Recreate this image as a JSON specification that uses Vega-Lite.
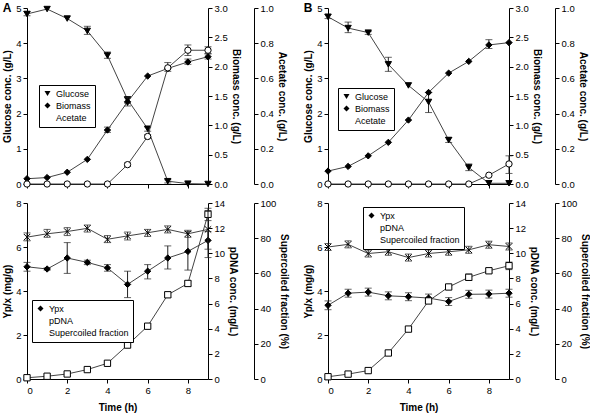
{
  "$schema": "https://vega.github.io/schema/vega-lite/v6.json",
  "padding": {"left": 2, "top": 2, "right": 0, "bottom": 2},
  "config": {
    "font": "Liberation Sans",
    "view": {"stroke": null},
    "axis": {"grid": false, "labelFontSize": 9.5, "titleFontSize": 10, "titleFontWeight": "bold", "domainColor": "#000", "tickColor": "#000", "labelColor": "#000", "titleColor": "#000", "tickSize": 4, "labelPadding": 2, "titlePadding": 3},
    "legend": {"strokeColor": "#000", "padding": 4, "labelFontSize": 9, "symbolSize": 36, "symbolStrokeColor": "#000", "symbolStrokeWidth": 1, "rowPadding": 1, "fillColor": "white"},
    "title": {"fontSize": 12, "fontWeight": "bold", "anchor": "start", "frame": "bounds"}
  },
  "data": {"values": [
    {"p":"A1","s":"Glucose","t":0,"v":4.83,"lo":4.78,"hi":4.9},
    {"p":"A1","s":"Glucose","t":1,"v":4.97},
    {"p":"A1","s":"Glucose","t":2,"v":4.7},
    {"p":"A1","s":"Glucose","t":3,"v":4.35,"lo":4.25,"hi":4.48},
    {"p":"A1","s":"Glucose","t":4,"v":3.65,"lo":3.57,"hi":3.75},
    {"p":"A1","s":"Glucose","t":5,"v":2.4,"lo":2.3,"hi":2.48},
    {"p":"A1","s":"Glucose","t":6,"v":1.57,"lo":1.5,"hi":1.62},
    {"p":"A1","s":"Glucose","t":7,"v":0.08,"lo":0.03,"hi":0.12},
    {"p":"A1","s":"Glucose","t":8,"v":0.01},
    {"p":"A1","s":"Glucose","t":9,"v":0.0},
    {"p":"A1","s":"Biomass","t":0,"v":0.09},
    {"p":"A1","s":"Biomass","t":1,"v":0.11},
    {"p":"A1","s":"Biomass","t":2,"v":0.2},
    {"p":"A1","s":"Biomass","t":3,"v":0.42},
    {"p":"A1","s":"Biomass","t":4,"v":0.92,"lo":0.88,"hi":0.97},
    {"p":"A1","s":"Biomass","t":5,"v":1.4,"lo":1.33,"hi":1.47},
    {"p":"A1","s":"Biomass","t":6,"v":1.84},
    {"p":"A1","s":"Biomass","t":7,"v":1.97,"lo":1.92,"hi":2.07},
    {"p":"A1","s":"Biomass","t":8,"v":2.08,"lo":2.04,"hi":2.13},
    {"p":"A1","s":"Biomass","t":9,"v":2.17,"lo":2.13,"hi":2.22},
    {"p":"A1","s":"Acetate","t":0,"v":0},
    {"p":"A1","s":"Acetate","t":1,"v":0},
    {"p":"A1","s":"Acetate","t":2,"v":0},
    {"p":"A1","s":"Acetate","t":3,"v":0},
    {"p":"A1","s":"Acetate","t":4,"v":0},
    {"p":"A1","s":"Acetate","t":5,"v":0.11,"lo":0.1,"hi":0.12},
    {"p":"A1","s":"Acetate","t":6,"v":0.27,"lo":0.26,"hi":0.28},
    {"p":"A1","s":"Acetate","t":7,"v":0.66},
    {"p":"A1","s":"Acetate","t":8,"v":0.76,"lo":0.73,"hi":0.79},
    {"p":"A1","s":"Acetate","t":9,"v":0.76,"lo":0.74,"hi":0.78},
    {"p":"A2","s":"Ypx","t":0,"v":5.1,"lo":4.9,"hi":5.3},
    {"p":"A2","s":"Ypx","t":1,"v":5.0,"lo":4.95,"hi":5.05},
    {"p":"A2","s":"Ypx","t":2,"v":5.5,"lo":4.8,"hi":6.2},
    {"p":"A2","s":"Ypx","t":3,"v":5.3,"lo":5.2,"hi":5.4},
    {"p":"A2","s":"Ypx","t":4,"v":5.05,"lo":4.9,"hi":5.2},
    {"p":"A2","s":"Ypx","t":5,"v":4.3,"lo":3.7,"hi":4.9},
    {"p":"A2","s":"Ypx","t":6,"v":4.9,"lo":4.55,"hi":5.2},
    {"p":"A2","s":"Ypx","t":7,"v":5.5,"lo":5.0,"hi":6.05},
    {"p":"A2","s":"Ypx","t":8,"v":5.8,"lo":4.95,"hi":6.7},
    {"p":"A2","s":"Ypx","t":9,"v":6.3,"lo":5.9,"hi":6.7},
    {"p":"A2","s":"pDNA","t":0,"v":0.1},
    {"p":"A2","s":"pDNA","t":1,"v":0.22},
    {"p":"A2","s":"pDNA","t":2,"v":0.4},
    {"p":"A2","s":"pDNA","t":3,"v":0.75},
    {"p":"A2","s":"pDNA","t":4,"v":1.25},
    {"p":"A2","s":"pDNA","t":5,"v":2.7},
    {"p":"A2","s":"pDNA","t":6,"v":4.2},
    {"p":"A2","s":"pDNA","t":7,"v":6.7,"lo":6.5,"hi":6.9},
    {"p":"A2","s":"pDNA","t":8,"v":7.6,"lo":7.4,"hi":7.8},
    {"p":"A2","s":"pDNA","t":9,"v":13.1,"lo":12.6,"hi":13.4},
    {"p":"A2","s":"Supercoiled fraction","t":0,"v":80.6,"lo":78.5,"hi":83},
    {"p":"A2","s":"Supercoiled fraction","t":1,"v":82.5,"lo":80.5,"hi":85},
    {"p":"A2","s":"Supercoiled fraction","t":2,"v":83.8,"lo":81.5,"hi":86},
    {"p":"A2","s":"Supercoiled fraction","t":3,"v":85.6,"lo":83.5,"hi":87.5},
    {"p":"A2","s":"Supercoiled fraction","t":4,"v":79.4,"lo":77.5,"hi":81.5},
    {"p":"A2","s":"Supercoiled fraction","t":5,"v":81.3,"lo":79,"hi":83.5},
    {"p":"A2","s":"Supercoiled fraction","t":6,"v":83.1,"lo":81,"hi":85},
    {"p":"A2","s":"Supercoiled fraction","t":7,"v":85,"lo":83,"hi":87},
    {"p":"A2","s":"Supercoiled fraction","t":8,"v":82.5,"lo":80.5,"hi":84.5},
    {"p":"A2","s":"Supercoiled fraction","t":9,"v":85,"lo":69,"hi":97},
    {"p":"B1","s":"Glucose","t":0,"v":4.75,"lo":4.7,"hi":4.82},
    {"p":"B1","s":"Glucose","t":1,"v":4.43,"lo":4.3,"hi":4.6},
    {"p":"B1","s":"Glucose","t":2,"v":4.3,"lo":4.25,"hi":4.33},
    {"p":"B1","s":"Glucose","t":3,"v":3.4,"lo":3.2,"hi":3.6},
    {"p":"B1","s":"Glucose","t":4,"v":2.8},
    {"p":"B1","s":"Glucose","t":5,"v":2.33,"lo":2.03,"hi":2.6},
    {"p":"B1","s":"Glucose","t":6,"v":1.25,"lo":1.18,"hi":1.32},
    {"p":"B1","s":"Glucose","t":7,"v":0.47,"lo":0.38,"hi":0.57},
    {"p":"B1","s":"Glucose","t":8,"v":0.02},
    {"p":"B1","s":"Glucose","t":9,"v":0.02},
    {"p":"B1","s":"Biomass","t":0,"v":0.22},
    {"p":"B1","s":"Biomass","t":1,"v":0.3},
    {"p":"B1","s":"Biomass","t":2,"v":0.48},
    {"p":"B1","s":"Biomass","t":3,"v":0.71},
    {"p":"B1","s":"Biomass","t":4,"v":1.09},
    {"p":"B1","s":"Biomass","t":5,"v":1.56},
    {"p":"B1","s":"Biomass","t":6,"v":1.89},
    {"p":"B1","s":"Biomass","t":7,"v":2.09},
    {"p":"B1","s":"Biomass","t":8,"v":2.37,"lo":2.31,"hi":2.46},
    {"p":"B1","s":"Biomass","t":9,"v":2.41},
    {"p":"B1","s":"Acetate","t":0,"v":0},
    {"p":"B1","s":"Acetate","t":1,"v":0},
    {"p":"B1","s":"Acetate","t":2,"v":0},
    {"p":"B1","s":"Acetate","t":3,"v":0},
    {"p":"B1","s":"Acetate","t":4,"v":0},
    {"p":"B1","s":"Acetate","t":5,"v":0},
    {"p":"B1","s":"Acetate","t":6,"v":0},
    {"p":"B1","s":"Acetate","t":7,"v":0},
    {"p":"B1","s":"Acetate","t":8,"v":0.05},
    {"p":"B1","s":"Acetate","t":9,"v":0.114,"lo":0.06,"hi":0.16},
    {"p":"B2","s":"Ypx","t":0,"v":3.35,"lo":3.15,"hi":3.55},
    {"p":"B2","s":"Ypx","t":1,"v":3.9,"lo":3.72,"hi":4.08},
    {"p":"B2","s":"Ypx","t":2,"v":3.95,"lo":3.77,"hi":4.13},
    {"p":"B2","s":"Ypx","t":3,"v":3.78,"lo":3.6,"hi":3.96},
    {"p":"B2","s":"Ypx","t":4,"v":3.74,"lo":3.56,"hi":3.92},
    {"p":"B2","s":"Ypx","t":5,"v":3.68,"lo":3.5,"hi":3.86},
    {"p":"B2","s":"Ypx","t":6,"v":3.52,"lo":3.34,"hi":3.7},
    {"p":"B2","s":"Ypx","t":7,"v":3.85,"lo":3.67,"hi":4.03},
    {"p":"B2","s":"Ypx","t":8,"v":3.86,"lo":3.68,"hi":4.04},
    {"p":"B2","s":"Ypx","t":9,"v":3.9,"lo":3.72,"hi":4.08},
    {"p":"B2","s":"pDNA","t":0,"v":0.18},
    {"p":"B2","s":"pDNA","t":1,"v":0.39},
    {"p":"B2","s":"pDNA","t":2,"v":0.67},
    {"p":"B2","s":"pDNA","t":3,"v":2.07},
    {"p":"B2","s":"pDNA","t":4,"v":3.97},
    {"p":"B2","s":"pDNA","t":5,"v":6.21},
    {"p":"B2","s":"pDNA","t":6,"v":7.32},
    {"p":"B2","s":"pDNA","t":7,"v":8.09,"lo":7.85,"hi":8.35},
    {"p":"B2","s":"pDNA","t":8,"v":8.61,"lo":8.45,"hi":8.8},
    {"p":"B2","s":"pDNA","t":9,"v":9.01,"lo":8.7,"hi":9.3},
    {"p":"B2","s":"Supercoiled fraction","t":0,"v":75,"lo":73,"hi":77},
    {"p":"B2","s":"Supercoiled fraction","t":1,"v":76.5,"lo":74.5,"hi":78.5},
    {"p":"B2","s":"Supercoiled fraction","t":2,"v":71.3,"lo":69.3,"hi":73.3},
    {"p":"B2","s":"Supercoiled fraction","t":3,"v":72.3,"lo":70.3,"hi":74.3},
    {"p":"B2","s":"Supercoiled fraction","t":4,"v":69,"lo":67,"hi":71},
    {"p":"B2","s":"Supercoiled fraction","t":5,"v":71.3,"lo":69.3,"hi":73.3},
    {"p":"B2","s":"Supercoiled fraction","t":6,"v":72.3,"lo":70.3,"hi":74.3},
    {"p":"B2","s":"Supercoiled fraction","t":7,"v":73.4,"lo":71.4,"hi":75.4},
    {"p":"B2","s":"Supercoiled fraction","t":8,"v":76.3,"lo":74.3,"hi":78.3},
    {"p":"B2","s":"Supercoiled fraction","t":9,"v":75.3,"lo":73.3,"hi":77.3}
  ]},
  "spacing": 14,
  "resolve": {"scale": {"shape": "independent", "fill": "independent"}, "legend": {"shape": "independent", "fill": "independent"}},
  "hconcat": [
    {
      "spacing": 8,
      "resolve": {"scale": {"shape": "independent", "fill": "independent"}, "legend": {"shape": "independent", "fill": "independent"}},
      "vconcat": [
        {
          "title": {"text": "A", "offset": -12},
          "width": 181, "height": 176,
          "transform": [{"filter": "datum.p == 'A1'"}],
          "encoding": {"x": {"field": "t", "type": "quantitative", "scale": {"domain": [0, 9], "nice": false}, "axis": {"values": [0, 2, 4, 6, 8], "labels": false, "title": null}}},
          "resolve": {"scale": {"y": "independent"}},
          "layer": [
            {
              "transform": [{"filter": "datum.s == 'Glucose'"}],
              "encoding": {"y": {"field": "v", "type": "quantitative", "scale": {"domain": [0, 5], "nice": false}, "axis": {"values": [0, 1, 2, 3, 4, 5], "title": "Glucose conc. (g/L)"}}},
              "layer": [
                {"mark": {"type": "line", "color": "#444", "strokeWidth": 1}},
                {"transform": [{"filter": "isValid(datum.lo)"}], "mark": {"type": "errorbar", "ticks": {"size": 7}, "color": "#222"}, "encoding": {"y": {"field": "lo", "type": "quantitative", "scale": {"domain": [0, 5], "nice": false}, "title": "Glucose conc. (g/L)"}, "y2": {"field": "hi"}}},
                {"mark": {"type": "point", "size": 40, "opacity": 1, "stroke": "#000", "strokeWidth": 1},
                 "encoding": {
                   "shape": {"field": "s", "type": "nominal", "scale": {"domain": ["Glucose", "Biomass", "Acetate"], "range": ["triangle-down", "diamond", "circle"]}, "legend": {"title": null, "orient": "none", "legendX": 12, "legendY": 77, "strokeColor": "#000", "symbolStrokeColor": "#000"}},
                   "fill": {"field": "s", "type": "nominal", "scale": {"domain": ["Glucose", "Biomass", "Acetate"], "range": ["#000", "#000", "#fff"]}, "legend": {"title": null, "orient": "none", "legendX": 12, "legendY": 77, "strokeColor": "#000", "symbolStrokeColor": "#000"}}}}
              ]
            },
            {
              "transform": [{"filter": "datum.s == 'Biomass'"}],
              "encoding": {"y": {"field": "v", "type": "quantitative", "scale": {"domain": [0, 3], "nice": false}, "axis": {"orient": "right", "values": [0, 0.5, 1, 1.5, 2, 2.5, 3], "format": ".1f", "title": "Biomass conc. (g/L)"}}},
              "layer": [
                {"mark": {"type": "line", "color": "#444", "strokeWidth": 1}},
                {"transform": [{"filter": "isValid(datum.lo)"}], "mark": {"type": "errorbar", "ticks": {"size": 7}, "color": "#222"}, "encoding": {"y": {"field": "lo", "type": "quantitative", "scale": {"domain": [0, 3], "nice": false}, "title": "Biomass conc. (g/L)"}, "y2": {"field": "hi"}}},
                {"mark": {"type": "point", "size": 40, "opacity": 1, "stroke": "#000", "strokeWidth": 1},
                 "encoding": {
                   "shape": {"field": "s", "type": "nominal", "scale": {"domain": ["Glucose", "Biomass", "Acetate"], "range": ["triangle-down", "diamond", "circle"]}, "legend": {"title": null, "orient": "none", "legendX": 12, "legendY": 77, "strokeColor": "#000", "symbolStrokeColor": "#000"}},
                   "fill": {"field": "s", "type": "nominal", "scale": {"domain": ["Glucose", "Biomass", "Acetate"], "range": ["#000", "#000", "#fff"]}, "legend": {"title": null, "orient": "none", "legendX": 12, "legendY": 77, "strokeColor": "#000", "symbolStrokeColor": "#000"}}}}
              ]
            },
            {
              "transform": [{"filter": "datum.s == 'Acetate'"}],
              "encoding": {"y": {"field": "v", "type": "quantitative", "scale": {"domain": [0, 1], "nice": false}, "axis": {"orient": "right", "offset": 46, "values": [0, 0.2, 0.4, 0.6, 0.8, 1], "format": ".1f", "title": "Acetate conc. (g/L)"}}},
              "layer": [
                {"mark": {"type": "line", "color": "#444", "strokeWidth": 1}},
                {"transform": [{"filter": "isValid(datum.lo)"}], "mark": {"type": "errorbar", "ticks": {"size": 7}, "color": "#222"}, "encoding": {"y": {"field": "lo", "type": "quantitative", "scale": {"domain": [0, 1], "nice": false}, "title": "Acetate conc. (g/L)"}, "y2": {"field": "hi"}}},
                {"mark": {"type": "point", "size": 40, "opacity": 1, "stroke": "#000", "strokeWidth": 1},
                 "encoding": {
                   "shape": {"field": "s", "type": "nominal", "scale": {"domain": ["Glucose", "Biomass", "Acetate"], "range": ["triangle-down", "diamond", "circle"]}, "legend": {"title": null, "orient": "none", "legendX": 12, "legendY": 77, "strokeColor": "#000", "symbolStrokeColor": "#000"}},
                   "fill": {"field": "s", "type": "nominal", "scale": {"domain": ["Glucose", "Biomass", "Acetate"], "range": ["#000", "#000", "#fff"]}, "legend": {"title": null, "orient": "none", "legendX": 12, "legendY": 77, "strokeColor": "#000", "symbolStrokeColor": "#000"}}}}
              ]
            }
          ]
        },
        {
          "width": 181, "height": 176,
          "transform": [{"filter": "datum.p == 'A2'"}],
          "encoding": {"x": {"field": "t", "type": "quantitative", "scale": {"domain": [0, 9], "nice": false}, "axis": {"values": [0, 2, 4, 6, 8], "title": "Time (h)", "titlePadding": 8}}},
          "resolve": {"scale": {"y": "independent"}},
          "layer": [
            {
              "transform": [{"filter": "datum.s == 'Ypx'"}],
              "encoding": {"y": {"field": "v", "type": "quantitative", "scale": {"domain": [0, 8], "nice": false}, "axis": {"values": [0, 2, 4, 6, 8], "title": "Yp/x (mg/g)"}}},
              "layer": [
                {"mark": {"type": "line", "color": "#444", "strokeWidth": 1}},
                {"transform": [{"filter": "isValid(datum.lo)"}], "mark": {"type": "errorbar", "ticks": {"size": 7}, "color": "#222"}, "encoding": {"y": {"field": "lo", "type": "quantitative", "scale": {"domain": [0, 8], "nice": false}, "title": "Yp/x (mg/g)"}, "y2": {"field": "hi"}}},
                {"mark": {"type": "point", "size": 40, "opacity": 1, "stroke": "#000", "strokeWidth": 1},
                 "encoding": {
                   "shape": {"field": "s", "type": "nominal", "scale": {"domain": ["Ypx", "pDNA", "Supercoiled fraction"], "range": ["diamond", "square", "M-1,-1L1,1M-1,1L1,-1"]}, "legend": {"title": null, "orient": "none", "legendX": 5, "legendY": 97, "strokeColor": "#000", "symbolStrokeColor": "#000"}},
                   "fill": {"field": "s", "type": "nominal", "scale": {"domain": ["Ypx", "pDNA", "Supercoiled fraction"], "range": ["#000", "#fff", "transparent"]}, "legend": {"title": null, "orient": "none", "legendX": 5, "legendY": 97, "strokeColor": "#000", "symbolStrokeColor": "#000"}}}}
              ]
            },
            {
              "transform": [{"filter": "datum.s == 'pDNA'"}],
              "encoding": {"y": {"field": "v", "type": "quantitative", "scale": {"domain": [0, 14], "nice": false}, "axis": {"orient": "right", "values": [0, 2, 4, 6, 8, 10, 12, 14], "title": "pDNA conc. (mg/L)"}}},
              "layer": [
                {"mark": {"type": "line", "color": "#444", "strokeWidth": 1}},
                {"transform": [{"filter": "isValid(datum.lo)"}], "mark": {"type": "errorbar", "ticks": {"size": 7}, "color": "#222"}, "encoding": {"y": {"field": "lo", "type": "quantitative", "scale": {"domain": [0, 14], "nice": false}, "title": "pDNA conc. (mg/L)"}, "y2": {"field": "hi"}}},
                {"mark": {"type": "point", "size": 40, "opacity": 1, "stroke": "#000", "strokeWidth": 1},
                 "encoding": {
                   "shape": {"field": "s", "type": "nominal", "scale": {"domain": ["Ypx", "pDNA", "Supercoiled fraction"], "range": ["diamond", "square", "M-1,-1L1,1M-1,1L1,-1"]}, "legend": {"title": null, "orient": "none", "legendX": 5, "legendY": 97, "strokeColor": "#000", "symbolStrokeColor": "#000"}},
                   "fill": {"field": "s", "type": "nominal", "scale": {"domain": ["Ypx", "pDNA", "Supercoiled fraction"], "range": ["#000", "#fff", "transparent"]}, "legend": {"title": null, "orient": "none", "legendX": 5, "legendY": 97, "strokeColor": "#000", "symbolStrokeColor": "#000"}}}}
              ]
            },
            {
              "transform": [{"filter": "datum.s == 'Supercoiled fraction'"}],
              "encoding": {"y": {"field": "v", "type": "quantitative", "scale": {"domain": [0, 100], "nice": false}, "axis": {"orient": "right", "offset": 46, "values": [0, 20, 40, 60, 80, 100], "title": "Supercoiled fraction (%)"}}},
              "layer": [
                {"mark": {"type": "line", "color": "#444", "strokeWidth": 1}},
                {"transform": [{"filter": "isValid(datum.lo)"}], "mark": {"type": "errorbar", "ticks": {"size": 7}, "color": "#222"}, "encoding": {"y": {"field": "lo", "type": "quantitative", "scale": {"domain": [0, 100], "nice": false}, "title": "Supercoiled fraction (%)"}, "y2": {"field": "hi"}}},
                {"mark": {"type": "point", "size": 40, "opacity": 1, "stroke": "#000", "strokeWidth": 1},
                 "encoding": {
                   "shape": {"field": "s", "type": "nominal", "scale": {"domain": ["Ypx", "pDNA", "Supercoiled fraction"], "range": ["diamond", "square", "M-1,-1L1,1M-1,1L1,-1"]}, "legend": {"title": null, "orient": "none", "legendX": 5, "legendY": 97, "strokeColor": "#000", "symbolStrokeColor": "#000"}},
                   "fill": {"field": "s", "type": "nominal", "scale": {"domain": ["Ypx", "pDNA", "Supercoiled fraction"], "range": ["#000", "#fff", "transparent"]}, "legend": {"title": null, "orient": "none", "legendX": 5, "legendY": 97, "strokeColor": "#000", "symbolStrokeColor": "#000"}}}}
              ]
            }
          ]
        }
      ]
    },
    {
      "spacing": 8,
      "resolve": {"scale": {"shape": "independent", "fill": "independent"}, "legend": {"shape": "independent", "fill": "independent"}},
      "vconcat": [
        {
          "title": {"text": "B", "offset": -12},
          "width": 181, "height": 176,
          "transform": [{"filter": "datum.p == 'B1'"}],
          "encoding": {"x": {"field": "t", "type": "quantitative", "scale": {"domain": [0, 9], "nice": false}, "axis": {"values": [0, 2, 4, 6, 8], "labels": false, "title": null}}},
          "resolve": {"scale": {"y": "independent"}},
          "layer": [
            {
              "transform": [{"filter": "datum.s == 'Glucose'"}],
              "encoding": {"y": {"field": "v", "type": "quantitative", "scale": {"domain": [0, 5], "nice": false}, "axis": {"values": [0, 1, 2, 3, 4, 5], "title": "Glucose conc. (g/L)"}}},
              "layer": [
                {"mark": {"type": "line", "color": "#444", "strokeWidth": 1}},
                {"transform": [{"filter": "isValid(datum.lo)"}], "mark": {"type": "errorbar", "ticks": {"size": 7}, "color": "#222"}, "encoding": {"y": {"field": "lo", "type": "quantitative", "scale": {"domain": [0, 5], "nice": false}, "title": "Glucose conc. (g/L)"}, "y2": {"field": "hi"}}},
                {"mark": {"type": "point", "size": 40, "opacity": 1, "stroke": "#000", "strokeWidth": 1},
                 "encoding": {
                   "shape": {"field": "s", "type": "nominal", "scale": {"domain": ["Glucose", "Biomass", "Acetate"], "range": ["triangle-down", "diamond", "circle"]}, "legend": {"title": null, "orient": "none", "legendX": 10, "legendY": 80, "strokeColor": "#000", "symbolStrokeColor": "#000"}},
                   "fill": {"field": "s", "type": "nominal", "scale": {"domain": ["Glucose", "Biomass", "Acetate"], "range": ["#000", "#000", "#fff"]}, "legend": {"title": null, "orient": "none", "legendX": 10, "legendY": 80, "strokeColor": "#000", "symbolStrokeColor": "#000"}}}}
              ]
            },
            {
              "transform": [{"filter": "datum.s == 'Biomass'"}],
              "encoding": {"y": {"field": "v", "type": "quantitative", "scale": {"domain": [0, 3], "nice": false}, "axis": {"orient": "right", "values": [0, 0.5, 1, 1.5, 2, 2.5, 3], "format": ".1f", "title": "Biomass conc. (g/L)"}}},
              "layer": [
                {"mark": {"type": "line", "color": "#444", "strokeWidth": 1}},
                {"transform": [{"filter": "isValid(datum.lo)"}], "mark": {"type": "errorbar", "ticks": {"size": 7}, "color": "#222"}, "encoding": {"y": {"field": "lo", "type": "quantitative", "scale": {"domain": [0, 3], "nice": false}, "title": "Biomass conc. (g/L)"}, "y2": {"field": "hi"}}},
                {"mark": {"type": "point", "size": 40, "opacity": 1, "stroke": "#000", "strokeWidth": 1},
                 "encoding": {
                   "shape": {"field": "s", "type": "nominal", "scale": {"domain": ["Glucose", "Biomass", "Acetate"], "range": ["triangle-down", "diamond", "circle"]}, "legend": {"title": null, "orient": "none", "legendX": 10, "legendY": 80, "strokeColor": "#000", "symbolStrokeColor": "#000"}},
                   "fill": {"field": "s", "type": "nominal", "scale": {"domain": ["Glucose", "Biomass", "Acetate"], "range": ["#000", "#000", "#fff"]}, "legend": {"title": null, "orient": "none", "legendX": 10, "legendY": 80, "strokeColor": "#000", "symbolStrokeColor": "#000"}}}}
              ]
            },
            {
              "transform": [{"filter": "datum.s == 'Acetate'"}],
              "encoding": {"y": {"field": "v", "type": "quantitative", "scale": {"domain": [0, 1], "nice": false}, "axis": {"orient": "right", "offset": 46, "values": [0, 0.2, 0.4, 0.6, 0.8, 1], "format": ".1f", "title": "Acetate conc. (g/L)"}}},
              "layer": [
                {"mark": {"type": "line", "color": "#444", "strokeWidth": 1}},
                {"transform": [{"filter": "isValid(datum.lo)"}], "mark": {"type": "errorbar", "ticks": {"size": 7}, "color": "#222"}, "encoding": {"y": {"field": "lo", "type": "quantitative", "scale": {"domain": [0, 1], "nice": false}, "title": "Acetate conc. (g/L)"}, "y2": {"field": "hi"}}},
                {"mark": {"type": "point", "size": 40, "opacity": 1, "stroke": "#000", "strokeWidth": 1},
                 "encoding": {
                   "shape": {"field": "s", "type": "nominal", "scale": {"domain": ["Glucose", "Biomass", "Acetate"], "range": ["triangle-down", "diamond", "circle"]}, "legend": {"title": null, "orient": "none", "legendX": 10, "legendY": 80, "strokeColor": "#000", "symbolStrokeColor": "#000"}},
                   "fill": {"field": "s", "type": "nominal", "scale": {"domain": ["Glucose", "Biomass", "Acetate"], "range": ["#000", "#000", "#fff"]}, "legend": {"title": null, "orient": "none", "legendX": 10, "legendY": 80, "strokeColor": "#000", "symbolStrokeColor": "#000"}}}}
              ]
            }
          ]
        },
        {
          "width": 181, "height": 176,
          "transform": [{"filter": "datum.p == 'B2'"}],
          "encoding": {"x": {"field": "t", "type": "quantitative", "scale": {"domain": [0, 9], "nice": false}, "axis": {"values": [0, 2, 4, 6, 8], "title": "Time (h)", "titlePadding": 8}}},
          "resolve": {"scale": {"y": "independent"}},
          "layer": [
            {
              "transform": [{"filter": "datum.s == 'Ypx'"}],
              "encoding": {"y": {"field": "v", "type": "quantitative", "scale": {"domain": [0, 8], "nice": false}, "axis": {"values": [0, 2, 4, 6, 8], "title": "Yp/x (mg/g)"}}},
              "layer": [
                {"mark": {"type": "line", "color": "#444", "strokeWidth": 1}},
                {"transform": [{"filter": "isValid(datum.lo)"}], "mark": {"type": "errorbar", "ticks": {"size": 7}, "color": "#222"}, "encoding": {"y": {"field": "lo", "type": "quantitative", "scale": {"domain": [0, 8], "nice": false}, "title": "Yp/x (mg/g)"}, "y2": {"field": "hi"}}},
                {"mark": {"type": "point", "size": 40, "opacity": 1, "stroke": "#000", "strokeWidth": 1},
                 "encoding": {
                   "shape": {"field": "s", "type": "nominal", "scale": {"domain": ["Ypx", "pDNA", "Supercoiled fraction"], "range": ["diamond", "square", "M-1,-1L1,1M-1,1L1,-1"]}, "legend": {"title": null, "orient": "none", "legendX": 35, "legendY": 4, "strokeColor": "#000", "symbolStrokeColor": "#000"}},
                   "fill": {"field": "s", "type": "nominal", "scale": {"domain": ["Ypx", "pDNA", "Supercoiled fraction"], "range": ["#000", "#fff", "transparent"]}, "legend": {"title": null, "orient": "none", "legendX": 35, "legendY": 4, "strokeColor": "#000", "symbolStrokeColor": "#000"}}}}
              ]
            },
            {
              "transform": [{"filter": "datum.s == 'pDNA'"}],
              "encoding": {"y": {"field": "v", "type": "quantitative", "scale": {"domain": [0, 14], "nice": false}, "axis": {"orient": "right", "values": [0, 2, 4, 6, 8, 10, 12, 14], "title": "pDNA conc. (mg/L)"}}},
              "layer": [
                {"mark": {"type": "line", "color": "#444", "strokeWidth": 1}},
                {"transform": [{"filter": "isValid(datum.lo)"}], "mark": {"type": "errorbar", "ticks": {"size": 7}, "color": "#222"}, "encoding": {"y": {"field": "lo", "type": "quantitative", "scale": {"domain": [0, 14], "nice": false}, "title": "pDNA conc. (mg/L)"}, "y2": {"field": "hi"}}},
                {"mark": {"type": "point", "size": 40, "opacity": 1, "stroke": "#000", "strokeWidth": 1},
                 "encoding": {
                   "shape": {"field": "s", "type": "nominal", "scale": {"domain": ["Ypx", "pDNA", "Supercoiled fraction"], "range": ["diamond", "square", "M-1,-1L1,1M-1,1L1,-1"]}, "legend": {"title": null, "orient": "none", "legendX": 35, "legendY": 4, "strokeColor": "#000", "symbolStrokeColor": "#000"}},
                   "fill": {"field": "s", "type": "nominal", "scale": {"domain": ["Ypx", "pDNA", "Supercoiled fraction"], "range": ["#000", "#fff", "transparent"]}, "legend": {"title": null, "orient": "none", "legendX": 35, "legendY": 4, "strokeColor": "#000", "symbolStrokeColor": "#000"}}}}
              ]
            },
            {
              "transform": [{"filter": "datum.s == 'Supercoiled fraction'"}],
              "encoding": {"y": {"field": "v", "type": "quantitative", "scale": {"domain": [0, 100], "nice": false}, "axis": {"orient": "right", "offset": 46, "values": [0, 20, 40, 60, 80, 100], "title": "Supercoiled fraction (%)"}}},
              "layer": [
                {"mark": {"type": "line", "color": "#444", "strokeWidth": 1}},
                {"transform": [{"filter": "isValid(datum.lo)"}], "mark": {"type": "errorbar", "ticks": {"size": 7}, "color": "#222"}, "encoding": {"y": {"field": "lo", "type": "quantitative", "scale": {"domain": [0, 100], "nice": false}, "title": "Supercoiled fraction (%)"}, "y2": {"field": "hi"}}},
                {"mark": {"type": "point", "size": 40, "opacity": 1, "stroke": "#000", "strokeWidth": 1},
                 "encoding": {
                   "shape": {"field": "s", "type": "nominal", "scale": {"domain": ["Ypx", "pDNA", "Supercoiled fraction"], "range": ["diamond", "square", "M-1,-1L1,1M-1,1L1,-1"]}, "legend": {"title": null, "orient": "none", "legendX": 35, "legendY": 4, "strokeColor": "#000", "symbolStrokeColor": "#000"}},
                   "fill": {"field": "s", "type": "nominal", "scale": {"domain": ["Ypx", "pDNA", "Supercoiled fraction"], "range": ["#000", "#fff", "transparent"]}, "legend": {"title": null, "orient": "none", "legendX": 35, "legendY": 4, "strokeColor": "#000", "symbolStrokeColor": "#000"}}}}
              ]
            }
          ]
        }
      ]
    }
  ]
}
